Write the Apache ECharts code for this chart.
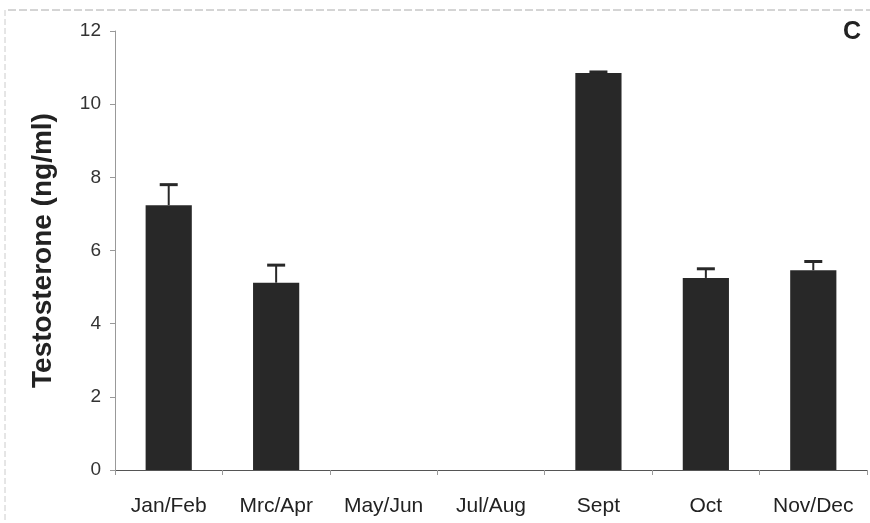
<!DOCTYPE html>
<html><head><meta charset="utf-8">
<script src="https://cdn.jsdelivr.net/npm/echarts@6/dist/echarts.min.js"></script>
<style>html,body{margin:0;padding:0;background:#fff;}#c{width:870px;height:523px;}</style>
</head><body><div id="c"></div>
<script>
const categories = ['Jan/Feb','Mrc/Apr','May/Jun','Jul/Aug','Sept','Oct','Nov/Dec'];
const means = [7.24, 5.12, null, null, 10.85, 5.25, 5.46];
const errUpper = [7.8, 5.6, null, null, 10.88, 5.5, 5.7];
const yTicks = [0, 2, 4, 6, 8, 10, 12];

const chart = echarts.init(document.getElementById('c'));
const errData = categories.map((c, i) => [i, means[i], errUpper[i]]).filter(d => d[1] != null);
chart.setOption({
  backgroundColor: '#fff',
  animation: false,
  grid: { left: 115, right: 3, top: 31, bottom: 53 },
  graphic: [
    { type: 'text', left: 843, top: 20, style: { text: 'C', font: 'bold 25px "Liberation Sans", Arial, sans-serif', fill: '#222' } },
    { type: 'line', shape: { x1: 8, y1: 10, x2: 870, y2: 10 }, style: { stroke: '#aaa', lineWidth: 1, lineDash: [8, 3] } },
    { type: 'line', shape: { x1: 5, y1: 10, x2: 5, y2: 523 }, style: { stroke: '#ccc', lineWidth: 1, lineDash: [6, 3] } }
  ],
  xAxis: {
    type: 'category', data: categories,
    axisLine: { lineStyle: { color: '#555', width: 1 } },
    axisTick: { show: true, length: 5, lineStyle: { color: '#999' } },
    axisLabel: { interval: 0, color: '#222', fontSize: 21, margin: 26, fontFamily: '"Liberation Sans", Arial, sans-serif' }
  },
  yAxis: {
    type: 'value', min: 0, max: 12, interval: 2,
    name: 'Testosterone (ng/ml)', nameLocation: 'middle', nameGap: 58,
    nameTextStyle: { color: '#222', fontSize: 28, fontWeight: 'bold', fontFamily: '"Liberation Sans", Arial, sans-serif' },
    axisLine: { show: true, lineStyle: { color: '#999', width: 1 } },
    axisTick: { show: true, length: 5, lineStyle: { color: '#999' } },
    splitLine: { show: false },
    axisLabel: { color: '#333', fontSize: 19, margin: 14, fontFamily: '"Liberation Sans", Arial, sans-serif',
      formatter: v => yTicks.includes(v) ? String(v) : '' }
  },
  series: [
    { type: 'bar', data: means, barWidth: '43%', itemStyle: { color: '#282828' }, z: 2 },
    { type: 'custom', data: errData, z: 3,
      renderItem: function (params, api) {
        const x = api.value(0);
        const top = api.coord([x, api.value(2)]);
        const base = api.coord([x, api.value(1)]);
        const hw = 9;
        return { type: 'group', children: [
          { type: 'line', shape: { x1: top[0], y1: base[1], x2: top[0], y2: top[1] }, style: { stroke: '#282828', lineWidth: 2 } },
          { type: 'line', shape: { x1: top[0] - hw, y1: top[1], x2: top[0] + hw, y2: top[1] }, style: { stroke: '#282828', lineWidth: 3 } }
        ] };
      }
    }
  ]
});
</script></body></html>
